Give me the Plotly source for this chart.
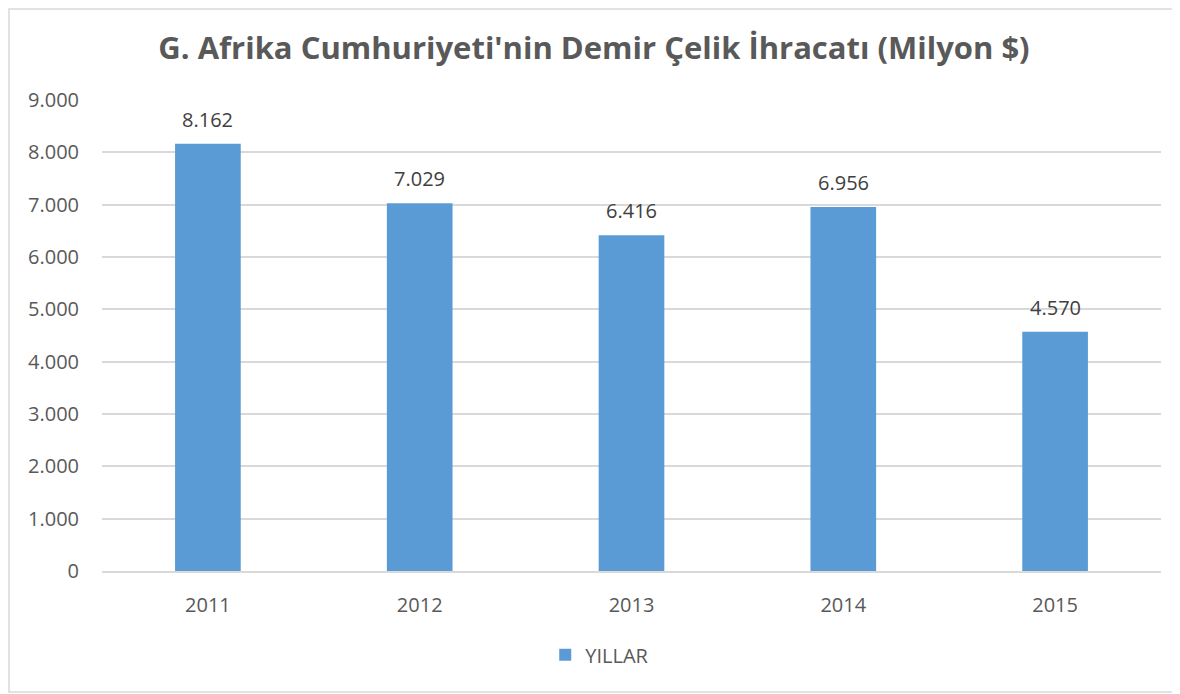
import plotly.graph_objects as go

years = ["2011", "2012", "2013", "2014", "2015"]
exports = [8162, 7029, 6416, 6956, 4570]
y_ticks = [0, 1000, 2000, 3000, 4000, 5000, 6000, 7000, 8000, 9000]

# page has an 8px body margin, so the figure is sized/shifted for it
W, H = 1172, 686
L, R, T, B = 94, 19, 92, 123
pw, ph = W - L - R, H - T - B

fig = go.Figure()
fig.add_trace(go.Bar(
    x=years, y=exports, name="YILLAR",
    marker=dict(color="#5B9BD5", line=dict(width=0)),
))

# value labels above bars (category index, since "2011" would be read as an index)
for i, v in enumerate(exports):
    fig.add_annotation(x=i, y=v, text=f"{v:,}".replace(",", "."),
                       showarrow=False, yanchor="bottom", yshift=9,
                       font=dict(size=20, color="#404040"))

fig.update_layout(
    width=W, height=H,
    margin=dict(l=L, r=R, t=T, b=B),
    paper_bgcolor="white", plot_bgcolor="white",
    separators=",.",
    font=dict(family="Open Sans, Liberation Sans, sans-serif", color="#595959", size=18),
    title=dict(
        text="<b>G. Afrika Cumhuriyeti'nin Demir Çelik İhracatı (Milyon $)</b>",
        x=0.5, xanchor="center", y=1 - 40 / H, yanchor="middle",
        font=dict(size=31, color="#595959"),
    ),
    bargap=0.69,
    showlegend=True,
    legend=dict(orientation="h", x=0.47, xanchor="center", y=-0.178, yanchor="middle",
                font=dict(size=20, color="#595959"), itemwidth=30),
    xaxis=dict(type="category", showline=True, linecolor="#D9D9D9", linewidth=1.5,
               ticks="", tickfont=dict(size=20), ticklabelstandoff=15),
    yaxis=dict(range=[0, 9000], tickvals=y_ticks, tickformat=",d",
               showgrid=True, gridcolor="#D9D9D9", gridwidth=1.5,
               zeroline=False, ticks="", tickfont=dict(size=20), ticklabelstandoff=22),
    shapes=[dict(type="rect", xref="paper", yref="paper",
                 x0=(1 - L) / pw, x1=(1170 - L) / pw,
                 y0=-(684 - T - ph) / ph, y1=1 + (T - 1) / ph,
                 line=dict(color="#D9D9D9", width=1.5), layer="below")],
)

fig.write_html("out.html")
